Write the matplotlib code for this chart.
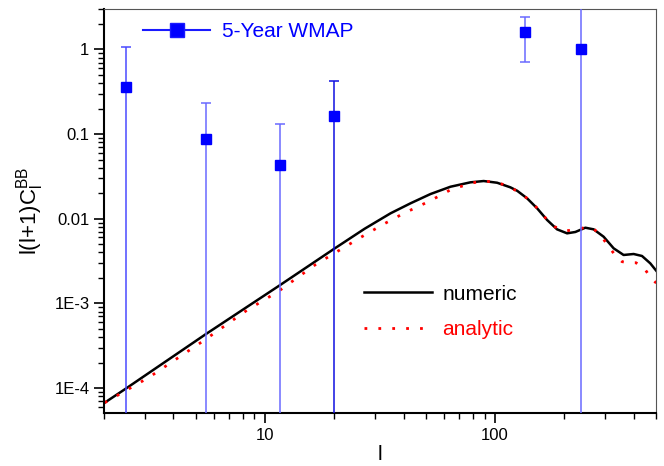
import numpy as np
import matplotlib.pyplot as plt
from matplotlib.lines import Line2D
from matplotlib.ticker import FixedLocator, FuncFormatter, LogLocator, NullFormatter

plt.rcParams['font.family'] = ['Liberation Sans', 'DejaVu Sans']
plt.rcParams['mathtext.fontset'] = 'custom'
plt.rcParams['mathtext.rm'] = 'Liberation Sans'
plt.rcParams['mathtext.it'] = 'Liberation Sans'

# numeric BB spectrum
l_num = [2.015, 2.503, 5.53, 11.66, 19.93, 27.09, 35.13, 42.9, 52.4, 63.97,
         78.1, 89.2, 102.0, 116.5, 124.6, 137.7, 152.2, 168.2, 185.8, 205.4, 223.1,
         246.6, 267.9, 296.0, 327.2, 361.5, 399.6, 434.5, 472.1, 501]
c_num = [6.72e-5, 9.95e-5, 4.32e-4, 1.65e-3, 4.39e-3, 7.6e-3, 0.01158,
         0.0152, 0.01957, 0.02386, 0.0269, 0.02787, 0.02661, 0.02348, 0.02141,
         0.01741, 0.01327, 0.00966, 0.00749, 0.00672, 0.00697, 0.00783, 0.00749,
         0.00613, 0.00447, 0.00373, 0.00383, 0.00363, 0.00297, 0.00243]

# analytic approximation
l_ana = [2.015, 3.14, 5.42, 8.39, 11.39, 16.55, 26.37, 32.85, 40.12, 52.0, 64.6,
         80.3, 89.9, 100.3, 110.8, 123.7, 137.7, 151.1, 165.3, 181.4, 201.9, 225.4,
         249.1, 269.8, 291.3, 314.4, 333.8, 355.8, 377.7, 409.3, 444.6, 475.5, 501]
c_ana = [6.72e-5, 1.34e-4, 3.63e-4, 8.36e-4, 1.374e-3, 2.86e-3, 6.13e-3, 8.66e-3,
         0.01158, 0.01618, 0.02224, 0.02661, 0.02787, 0.0269, 0.025, 0.02141,
         0.01741, 0.01364, 0.01027, 0.00804, 0.00716, 0.00749, 0.00792, 0.00749,
         0.00603, 0.00455, 0.00363, 0.00311, 0.00302, 0.00302, 0.0026, 0.00198,
         0.00174]

# 5-year WMAP points
l_wmap = [2.5, 5.53, 11.66, 20.0, 135.0, 237.0]
c_wmap = [0.362, 0.0873, 0.043, 0.164, 1.59, 1.0]
c_hi = [1.08, 0.23, 0.132, 0.42, 2.39, 10.0]
c_lo = [1e-6, 1e-6, 1e-6, 1e-6, 0.708, 1e-6]

fig = plt.figure(figsize=(6.64, 4.66), dpi=100)
ax = fig.add_axes([0.1566, 0.1137, 0.8314, 0.867])

ax.plot(l_num, c_num, color='black', lw=1.8, label='numeric')
ax.plot(l_ana, c_ana, color='red', lw=2.0, ls=(0, (1, 4)), label='analytic')

yerr = [np.array(c_wmap) - np.array(c_lo), np.array(c_hi) - np.array(c_wmap)]
ecols = ['#4a4aff', '#6a6aff', '#6a6aff', '#1010e0', '#6a6aff', '#6a6aff']
for i in range(len(l_wmap)):
    ax.errorbar([l_wmap[i]], [c_wmap[i]],
                yerr=[[yerr[0][i]], [yerr[1][i]]],
                fmt='s', color='#0000ff', ms=7.2, ecolor=ecols[i],
                elinewidth=1.1, capsize=3.4, capthick=1.1, zorder=3)

ax.set_xscale('log')
ax.set_yscale('log')
ax.set_xlim(2, 500)
ax.set_ylim(5.07e-5, 3.0)

ax.yaxis.set_major_locator(FixedLocator([1e-4, 1e-3, 1e-2, 0.1, 1]))
ylabs = {1e-4: '1E-4', 1e-3: '1E-3', 1e-2: '0.01', 0.1: '0.1', 1: '1'}
ax.yaxis.set_major_formatter(FuncFormatter(
    lambda v, p: min(ylabs.items(), key=lambda kv: abs(np.log10(kv[0]) - np.log10(v)))[1]))
ax.yaxis.set_minor_locator(LogLocator(base=10, subs=np.arange(2, 10)))
ax.yaxis.set_minor_formatter(NullFormatter())
ax.xaxis.set_major_locator(FixedLocator([10, 100]))
ax.xaxis.set_major_formatter(FuncFormatter(lambda v, p: '%d' % v))
ax.xaxis.set_minor_locator(LogLocator(base=10, subs=np.arange(2, 10)))
ax.xaxis.set_minor_formatter(NullFormatter())

ax.tick_params(which='major', direction='out', length=7, width=1.2, labelsize=12,
               colors='black')
ax.tick_params(which='minor', direction='out', length=4, width=1.0)
ax.tick_params(top=False, right=False, which='both')

for s in ['left', 'bottom']:
    ax.spines[s].set_linewidth(1.5)
for s in ['top', 'right']:
    ax.spines[s].set_linewidth(0.8)
    ax.spines[s].set_color('#555555')

ax.set_xlabel('l', fontsize=15, labelpad=2)
ax.set_ylabel(r'l(l+1)C$^{\mathrm{BB}}_{\mathrm{l}}$', fontsize=16, labelpad=6)

h = Line2D([], [], color='#1a1aff', lw=1.5, marker='s', ms=10.5, markerfacecolor='#0000ff')
leg1 = ax.legend([h], ['5-Year WMAP'], loc='upper left', bbox_to_anchor=(0.0712, 0.967),
                 frameon=False, fontsize=15, handlelength=3.2, handletextpad=0.58,
                 borderpad=0, borderaxespad=0)
for t in leg1.get_texts():
    t.set_color('#0000ff')
ax.add_artist(leg1)

hn, ln = ax.get_legend_handles_labels()
leg2 = ax.legend(hn[:2], ln[:2], loc='upper left', bbox_to_anchor=(0.471, 0.318),
                 frameon=False, fontsize=15, handlelength=3.27, handletextpad=0.5,
                 labelspacing=0.8, borderpad=0, borderaxespad=0)
leg2.get_texts()[1].set_color('red')

fig.savefig('out.png', dpi=100)
